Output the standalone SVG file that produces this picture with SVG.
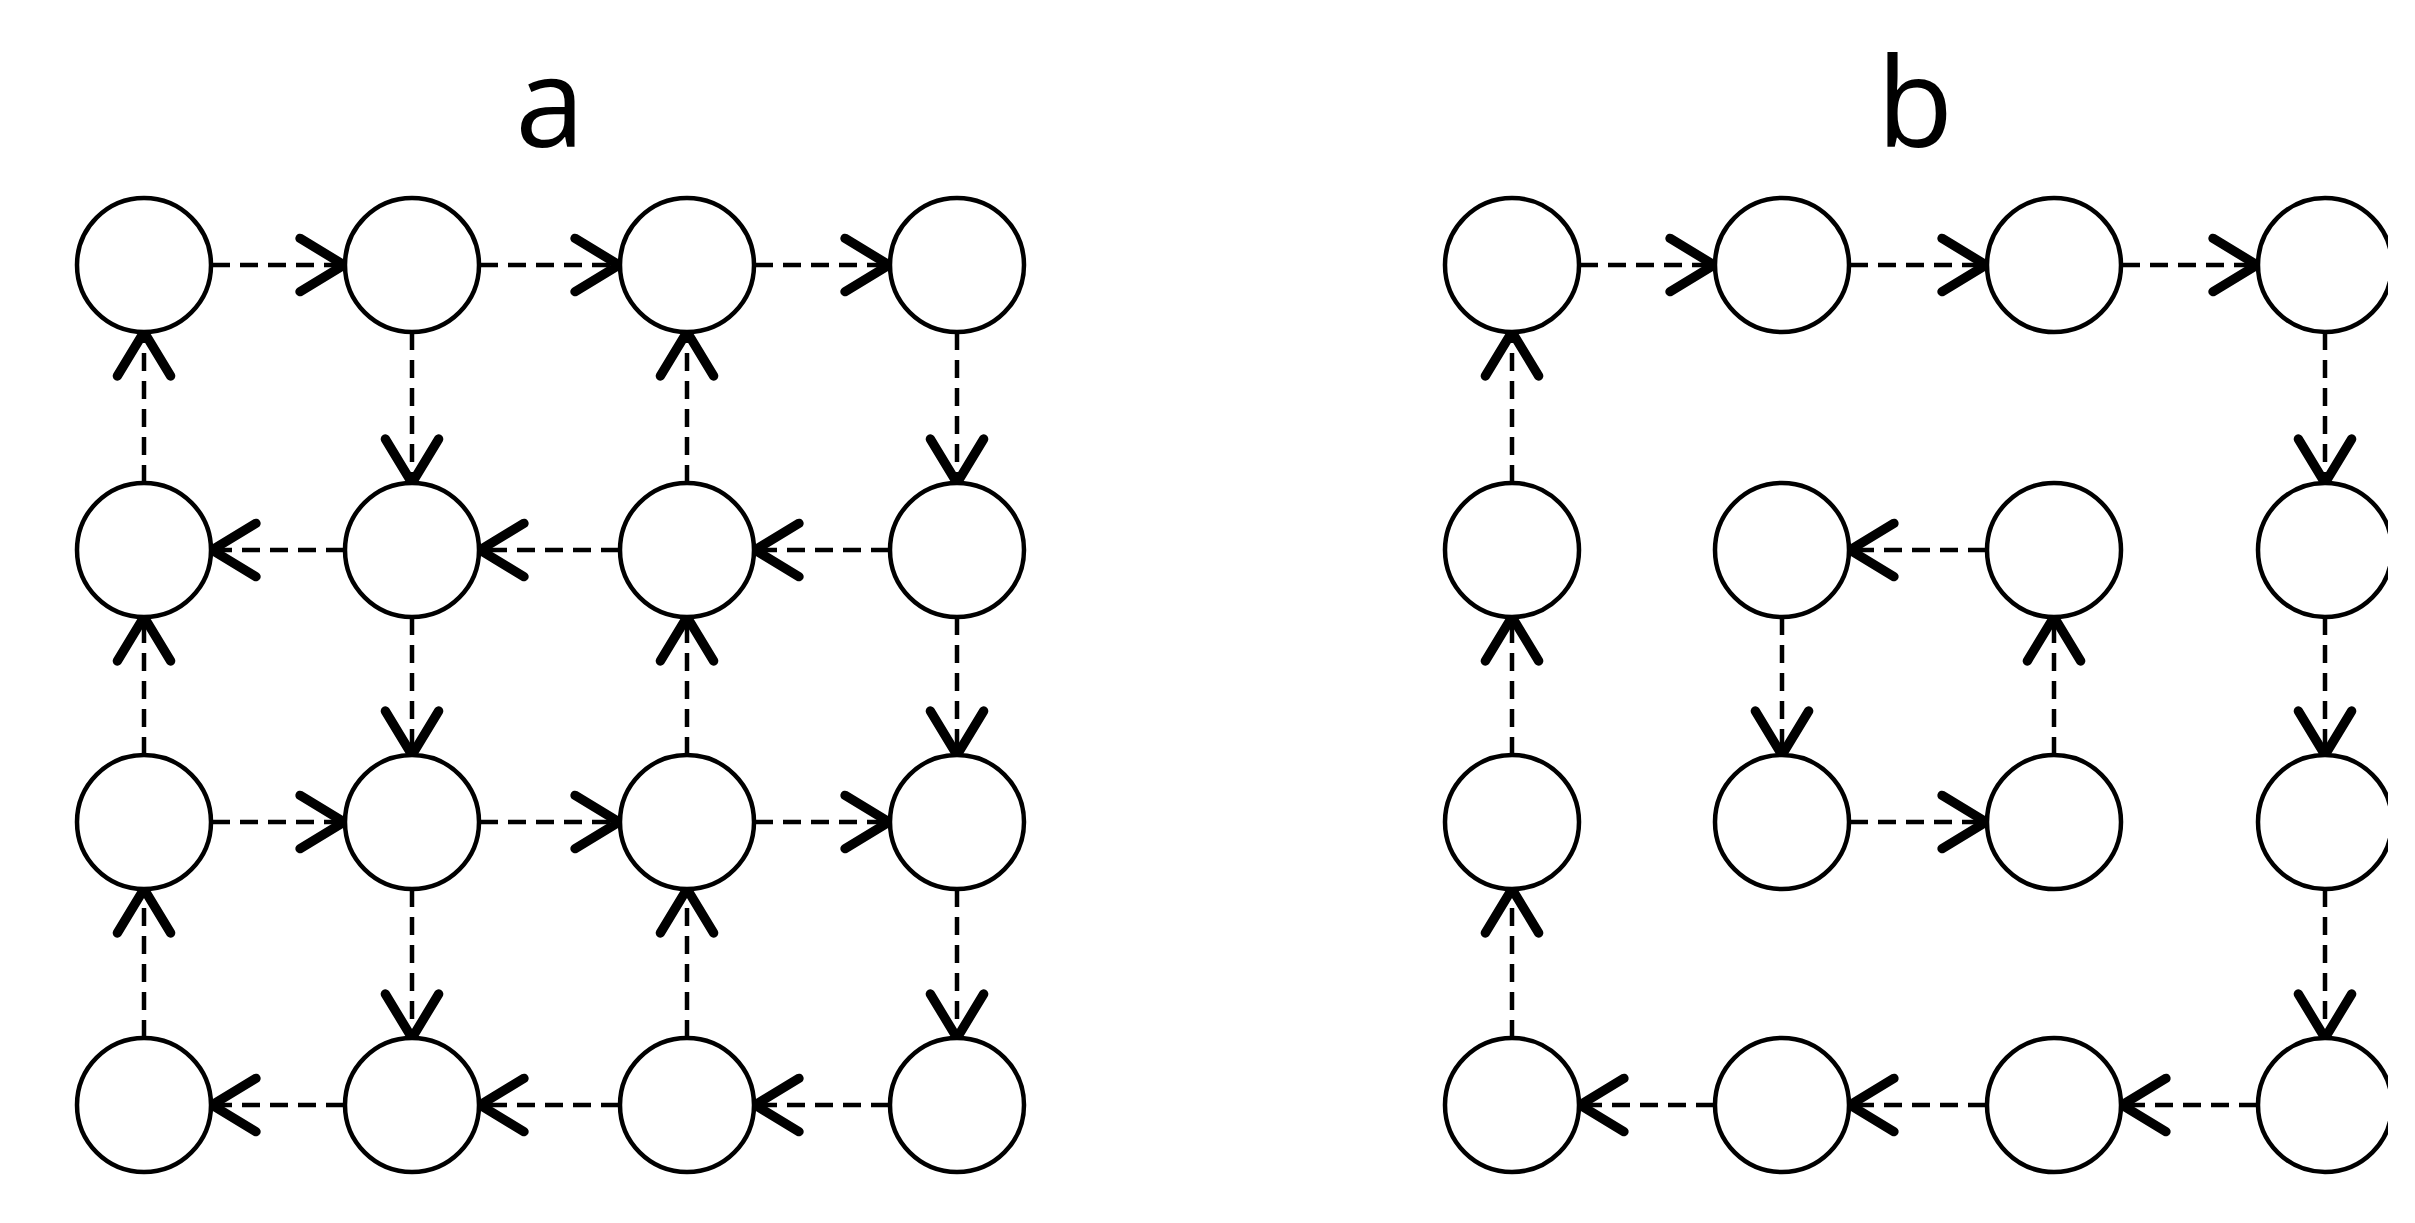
<svg xmlns="http://www.w3.org/2000/svg" width="2415" height="1223" viewBox="0 0 2415 1223">
<style>
.n{fill:#fff;stroke:#000;stroke-width:4.5}
.e{stroke:#000;stroke-width:4.5;stroke-dasharray:18 10;fill:none;marker-end:url(#ah)}
.t{font-family:"Open Sans","Liberation Sans",sans-serif;font-size:125px;fill:#000;text-anchor:middle}
</style>
<defs>
<marker id="ah" markerUnits="userSpaceOnUse" markerWidth="80" markerHeight="80" viewBox="-45 -30 55 60" refX="0" refY="0" orient="auto">
<path d="M-33,-20 L0,0 L-33,20" fill="none" stroke="#000" stroke-width="7" stroke-linecap="round" stroke-linejoin="round"/>
</marker>
<clipPath id="cp"><rect x="0" y="0" width="2388" height="1223"/></clipPath>
</defs>
<text class="t" x="550" y="147">a</text>
<text class="t" x="1915" y="147">b</text>
<g id="connectors">
<!-- panel a -->
<line class="e" x1="212" y1="265" x2="344" y2="265"/>
<line class="e" x1="480" y1="265" x2="619" y2="265"/>
<line class="e" x1="755" y1="265" x2="889" y2="265"/>
<line class="e" x1="144" y1="483" x2="144" y2="332"/>
<line class="e" x1="412" y1="332" x2="412" y2="483"/>
<line class="e" x1="687" y1="483" x2="687" y2="332"/>
<line class="e" x1="957" y1="332" x2="957" y2="483"/>
<line class="e" x1="889" y1="550" x2="755" y2="550"/>
<line class="e" x1="619" y1="550" x2="480" y2="550"/>
<line class="e" x1="344" y1="550" x2="212" y2="550"/>
<line class="e" x1="144" y1="755" x2="144" y2="617"/>
<line class="e" x1="412" y1="617" x2="412" y2="755"/>
<line class="e" x1="687" y1="755" x2="687" y2="617"/>
<line class="e" x1="957" y1="617" x2="957" y2="755"/>
<line class="e" x1="212" y1="822" x2="344" y2="822"/>
<line class="e" x1="480" y1="822" x2="619" y2="822"/>
<line class="e" x1="755" y1="822" x2="889" y2="822"/>
<line class="e" x1="144" y1="1038" x2="144" y2="889"/>
<line class="e" x1="412" y1="889" x2="412" y2="1038"/>
<line class="e" x1="687" y1="1038" x2="687" y2="889"/>
<line class="e" x1="957" y1="889" x2="957" y2="1038"/>
<line class="e" x1="889" y1="1105" x2="755" y2="1105"/>
<line class="e" x1="619" y1="1105" x2="480" y2="1105"/>
<line class="e" x1="344" y1="1105" x2="212" y2="1105"/>
<!-- panel b -->
<line class="e" x1="1580" y1="265" x2="1714" y2="265"/>
<line class="e" x1="1850" y1="265" x2="1986" y2="265"/>
<line class="e" x1="2122" y1="265" x2="2257" y2="265"/>
<line class="e" x1="2325" y1="332" x2="2325" y2="483"/>
<line class="e" x1="2325" y1="617" x2="2325" y2="755"/>
<line class="e" x1="2325" y1="889" x2="2325" y2="1038"/>
<line class="e" x1="2257" y1="1105" x2="2122" y2="1105"/>
<line class="e" x1="1986" y1="1105" x2="1850" y2="1105"/>
<line class="e" x1="1714" y1="1105" x2="1580" y2="1105"/>
<line class="e" x1="1512" y1="1038" x2="1512" y2="889"/>
<line class="e" x1="1512" y1="755" x2="1512" y2="617"/>
<line class="e" x1="1512" y1="483" x2="1512" y2="332"/>
<line class="e" x1="1986" y1="550" x2="1850" y2="550"/>
<line class="e" x1="1782" y1="617" x2="1782" y2="755"/>
<line class="e" x1="1850" y1="822" x2="1986" y2="822"/>
<line class="e" x1="2054" y1="755" x2="2054" y2="617"/>
</g>
<g id="a-nodes">
<g id="a00"><circle class="n" cx="144" cy="265" r="67"/></g>
<g id="a01"><circle class="n" cx="412" cy="265" r="67"/></g>
<g id="a02"><circle class="n" cx="687" cy="265" r="67"/></g>
<g id="a03"><circle class="n" cx="957" cy="265" r="67"/></g>
<g id="a10"><circle class="n" cx="144" cy="550" r="67"/></g>
<g id="a11"><circle class="n" cx="412" cy="550" r="67"/></g>
<g id="a12"><circle class="n" cx="687" cy="550" r="67"/></g>
<g id="a13"><circle class="n" cx="957" cy="550" r="67"/></g>
<g id="a20"><circle class="n" cx="144" cy="822" r="67"/></g>
<g id="a21"><circle class="n" cx="412" cy="822" r="67"/></g>
<g id="a22"><circle class="n" cx="687" cy="822" r="67"/></g>
<g id="a23"><circle class="n" cx="957" cy="822" r="67"/></g>
<g id="a30"><circle class="n" cx="144" cy="1105" r="67"/></g>
<g id="a31"><circle class="n" cx="412" cy="1105" r="67"/></g>
<g id="a32"><circle class="n" cx="687" cy="1105" r="67"/></g>
<g id="a33"><circle class="n" cx="957" cy="1105" r="67"/></g>
</g>
<g id="b-nodes" clip-path="url(#cp)">
<g id="b00"><circle class="n" cx="1512" cy="265" r="67"/></g>
<g id="b01"><circle class="n" cx="1782" cy="265" r="67"/></g>
<g id="b02"><circle class="n" cx="2054" cy="265" r="67"/></g>
<g id="b03"><circle class="n" cx="2325" cy="265" r="67"/></g>
<g id="b10"><circle class="n" cx="1512" cy="550" r="67"/></g>
<g id="b11"><circle class="n" cx="1782" cy="550" r="67"/></g>
<g id="b12"><circle class="n" cx="2054" cy="550" r="67"/></g>
<g id="b13"><circle class="n" cx="2325" cy="550" r="67"/></g>
<g id="b20"><circle class="n" cx="1512" cy="822" r="67"/></g>
<g id="b21"><circle class="n" cx="1782" cy="822" r="67"/></g>
<g id="b22"><circle class="n" cx="2054" cy="822" r="67"/></g>
<g id="b23"><circle class="n" cx="2325" cy="822" r="67"/></g>
<g id="b30"><circle class="n" cx="1512" cy="1105" r="67"/></g>
<g id="b31"><circle class="n" cx="1782" cy="1105" r="67"/></g>
<g id="b32"><circle class="n" cx="2054" cy="1105" r="67"/></g>
<g id="b33"><circle class="n" cx="2325" cy="1105" r="67"/></g>
</g>
</svg>
